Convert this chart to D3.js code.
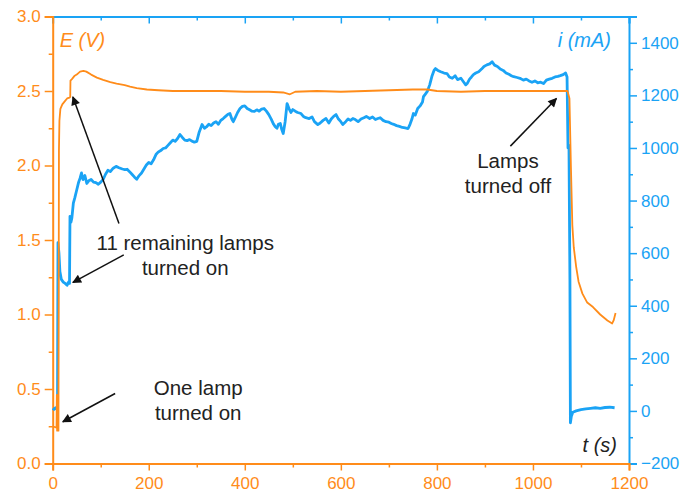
<!DOCTYPE html>
<html><head><meta charset="utf-8">
<script src="https://cdn.jsdelivr.net/npm/d3@7"></script>
<style>
html,body{margin:0;padding:0;background:#fff;}
svg{display:block;font-family:"Liberation Sans",Arial,sans-serif;}
</style></head>
<body><svg id="c" width="685" height="499"></svg>
<script>
// ---- data ----
const timeTicks = [0,200,400,600,800,1000,1200];
const voltTicks = [0,0.5,1.0,1.5,2.0,2.5,3.0];
const currTicks = [-200,0,200,400,600,800,1000,1200,1400];

// E (V) vs t (s)
const voltage = [
 [0,0.25],[4,0.245],[8,0.24],[8.6,0.46],[9.2,0.22],[12,0.22],[13,2.10],[14,2.30],[16,2.38],[20,2.41],
 [25,2.43],[30,2.45],[35,2.455],[36.5,2.46],[37,2.57],[40,2.58],[45,2.60],[50,2.61],[57,2.63],[64,2.635],
 [70,2.63],[80,2.61],[92,2.59],[105,2.575],[120,2.56],[133,2.55],[150,2.54],[161,2.53],[175,2.52],[196,2.51],
 [220,2.505],[250,2.50],[300,2.50],[350,2.50],[400,2.495],[450,2.495],[480,2.49],[494,2.478],[505,2.495],[550,2.50],
 [600,2.495],[650,2.50],[700,2.505],[750,2.51],[780,2.51],[800,2.50],[850,2.495],[900,2.50],[950,2.50],[1000,2.50],
 [1050,2.50],[1072,2.50],[1076,2.45],[1079,2.0],[1082,1.6],[1085,1.45],[1090,1.32],[1095,1.22],[1103,1.14],[1113,1.08],
 [1125,1.05],[1140,1.00],[1155,0.96],[1165,0.94],[1168,0.96],[1172,1.01]
];

// i (mA) vs t (s)
const current = [
 [0,10],[3,6],[6,12],[8,8],[10,12],[11,640],[13,600],[15,530],[18,500],[22,490],[26,485],[30,478],[33,490],[35,485],
 [36,740],[38,718],[40,735],[43,790],[46,810],[50,840],[54,870],[57,885],[60,905],[63,880],[67,895],[71,865],[75,875],
 [80,880],[85,870],[90,868],[95,862],[100,870],[105,880],[110,900],[115,915],[120,910],[126,923],[132,930],[138,925],
 [145,920],[150,918],[155,919],[160,910],[165,900],[170,890],[175,881],[180,895],[185,905],[190,920],[195,935],[200,945],
 [205,940],[210,955],[215,975],[220,985],[225,990],[230,998],[235,1000],[240,1010],[245,1020],[250,1030],[255,1025],
 [260,1036],[265,1051],[270,1040],[275,1030],[280,1028],[285,1032],[290,1026],[295,1022],[300,1025],[305,1060],[311,1089],
 [316,1075],[320,1080],[325,1090],[330,1085],[335,1095],[340,1100],[345,1090],[350,1105],[355,1112],[360,1120],[365,1128],
 [369,1131],[373,1110],[376,1100],[380,1115],[385,1135],[390,1150],[395,1158],[400,1160],[405,1150],[410,1145],[415,1140],
 [420,1139],[425,1145],[430,1140],[435,1148],[440,1150],[445,1140],[450,1127],[455,1110],[460,1090],[463,1082],[467,1075],
 [470,1090],[474,1093],[477,1070],[480,1055],[484,1100],[488,1169],[492,1150],[496,1135],[500,1146],[505,1140],[510,1135],
 [517,1131],[522,1120],[527,1115],[534,1112],[540,1118],[545,1100],[552,1089],[557,1095],[563,1105],[569,1112],[575,1095],
 [580,1110],[585,1120],[590,1127],[595,1110],[600,1100],[604,1089],[610,1100],[615,1110],[620,1105],[625,1112],[630,1108],
 [636,1100],[642,1110],[648,1115],[653,1120],[660,1112],[666,1118],[672,1108],[677,1112],[682,1115],[688,1105],[694,1100],
 [700,1098],[705,1093],[710,1090],[716,1085],[722,1082],[728,1078],[734,1076],[740,1074],[744,1090],[748,1110],[751,1131],
 [755,1125],[760,1150],[765,1160],[770,1175],[772,1195],[776,1205],[780,1215],[785,1240],[790,1275],[794,1295],[797,1302],
 [802,1295],[808,1290],[815,1285],[821,1283],[826,1270],[832,1265],[838,1275],[843,1260],[850,1265],[856,1250],[860,1240],
 [863,1245],[868,1262],[872,1270],[876,1279],[881,1285],[887,1290],[893,1300],[898,1310],[904,1316],[910,1320],[915,1328],
 [920,1315],[926,1310],[932,1300],[938,1295],[944,1285],[950,1280],[955,1275],[960,1271],[967,1268],[973,1265],[980,1258],
 [986,1262],[992,1255],[998,1250],[1004,1255],[1010,1248],[1016,1250],[1022,1245],[1028,1258],[1034,1262],[1040,1265],
 [1046,1270],[1052,1272],[1057,1275],[1063,1279],[1068,1285],[1071,1270],[1073,1000],[1075,1010],[1077,500],[1078,-45],
 [1080,-20],[1083,-5],[1090,0],[1100,5],[1110,8],[1120,10],[1130,12],[1140,10],[1150,13],[1160,14],[1170,12]
];

// annotations: [label lines, text anchor (t,E), arrows [[t0,E0,t1,E1],...]]
const notes = [
 {lines:["11 remaining lamps","turned on"], t:276, e:1.435, arrows:[[138,1.61,42,2.46],[148,1.40,42,1.215]]},
 {lines:["One lamp","turned on"], t:303, e:0.46, arrows:[[130,0.47,21,0.28]]},
 {lines:["Lamps","turned off"], t:948, e:1.98, arrows:[[953,2.13,1049,2.45]]}
];

// ---- drawing ----
const ORANGE = "#FF8C1A", BLUE = "#1AA3F5", TEXT = "#222";
const svg = d3.select("#c");
const L = 52.7, R = 629, T = 16.5, B = 463.5;
const x = d3.scaleLinear().domain([0,1200]).range([L,R]);
const yE = d3.scaleLinear().domain([0,3]).range([B,T]);
const yI = d3.scaleLinear().domain([-200,1500]).range([B,T]);

const minorT = d3.range(100,1200,200);
const minorE = d3.range(0.25,3,0.5);
const minorI = d3.range(-100,1500,200);

function style(g, color, size){
  g.select(".domain").attr("stroke",color).attr("stroke-width",2);
  g.selectAll(".tick line").attr("stroke",color).attr("stroke-width",1.5);
  g.selectAll(".tick text").attr("fill",color).attr("font-size",size).attr("font-family","Liberation Sans, Arial, sans-serif");
}

// top axis (blue, inward ticks)
const gTop = svg.append("g").attr("transform",`translate(0,${T})`)
  .call(d3.axisTop(x).tickValues(timeTicks).tickSize(-7).tickFormat(""));
style(gTop, BLUE, 17);
svg.append("g").attr("transform",`translate(0,${T})`)
  .call(d3.axisTop(x).tickValues(minorT).tickSize(-4).tickFormat(""))
  .call(g=>{g.select(".domain").remove(); g.selectAll("line").attr("stroke",BLUE).attr("stroke-width",1.5);});

// right axis (blue)
const gR = svg.append("g").attr("transform",`translate(${R},0)`)
  .call(d3.axisRight(yI).tickValues(currTicks).tickSize(8).tickPadding(4).tickFormat(d3.format("d")));
style(gR, BLUE, 17);
svg.append("g").attr("transform",`translate(${R},0)`)
  .call(d3.axisRight(yI).tickValues(minorI).tickSize(4).tickFormat(""))
  .call(g=>{g.select(".domain").remove(); g.selectAll("line").attr("stroke",BLUE).attr("stroke-width",1.5);});

// left axis (orange)
const gL = svg.append("g").attr("transform",`translate(${L},0)`)
  .call(d3.axisLeft(yE).tickValues(voltTicks).tickSize(8).tickPadding(4).tickFormat(d3.format(".1f")));
style(gL, ORANGE, 17);
svg.append("g").attr("transform",`translate(${L},0)`)
  .call(d3.axisLeft(yE).tickValues(minorE).tickSize(4).tickFormat(""))
  .call(g=>{g.select(".domain").remove(); g.selectAll("line").attr("stroke",ORANGE).attr("stroke-width",1.5);});

// bottom axis (orange)
const gB = svg.append("g").attr("transform",`translate(0,${B})`)
  .call(d3.axisBottom(x).tickValues(timeTicks).tickSize(7).tickPadding(6).tickFormat(d3.format("d")));
style(gB, ORANGE, 17);
svg.append("g").attr("transform",`translate(0,${B})`)
  .call(d3.axisBottom(x).tickValues(minorT).tickSize(4).tickFormat(""))
  .call(g=>{g.select(".domain").remove(); g.selectAll("line").attr("stroke",ORANGE).attr("stroke-width",1.5);});

// series
const lineI = d3.line().x(d=>x(d[0])).y(d=>yI(d[1]));
const lineE = d3.line().x(d=>x(d[0])).y(d=>yE(d[1]));
svg.append("path").datum(current).attr("d",lineI).attr("fill","none")
  .attr("stroke",BLUE).attr("stroke-width",2.8).attr("stroke-linejoin","round");
svg.append("path").datum(voltage).attr("d",lineE).attr("fill","none")
  .attr("stroke",ORANGE).attr("stroke-width",1.8).attr("stroke-linejoin","round");

// axis titles
svg.append("text").attr("x",L+7).attr("y",47).attr("fill",ORANGE).attr("font-size",20)
  .attr("font-style","italic").text("E (V)");
svg.append("text").attr("x",R-18).attr("y",47).attr("fill",BLUE).attr("font-size",20)
  .attr("font-style","italic").attr("text-anchor","end").text("i (mA)");
svg.append("text").attr("x",R-12).attr("y",452).attr("fill",TEXT).attr("font-size",20)
  .attr("font-style","italic").attr("text-anchor","end").text("t (s)");

// annotations
const defs = svg.append("defs");
defs.append("marker").attr("id","ah").attr("viewBox","0 0 10 10").attr("refX",9).attr("refY",5)
  .attr("markerWidth",11).attr("markerHeight",9).attr("markerUnits","userSpaceOnUse").attr("orient","auto")
  .append("path").attr("d","M0,0 L10,5 L0,10 z").attr("fill","#111");

notes.forEach(n=>{
  const t = svg.append("text").attr("text-anchor","middle").attr("fill",TEXT).attr("font-size",20.5);
  n.lines.forEach((s,i)=>t.append("tspan").attr("x",x(n.t)).attr("y",yE(n.e)+i*25).text(s));
  n.arrows.forEach(a=>{
    svg.append("line").attr("x1",x(a[0])).attr("y1",yE(a[1])).attr("x2",x(a[2])).attr("y2",yE(a[3]))
      .attr("stroke","#111").attr("stroke-width",1.5).attr("marker-end","url(#ah)");
  });
});
</script></body></html>
